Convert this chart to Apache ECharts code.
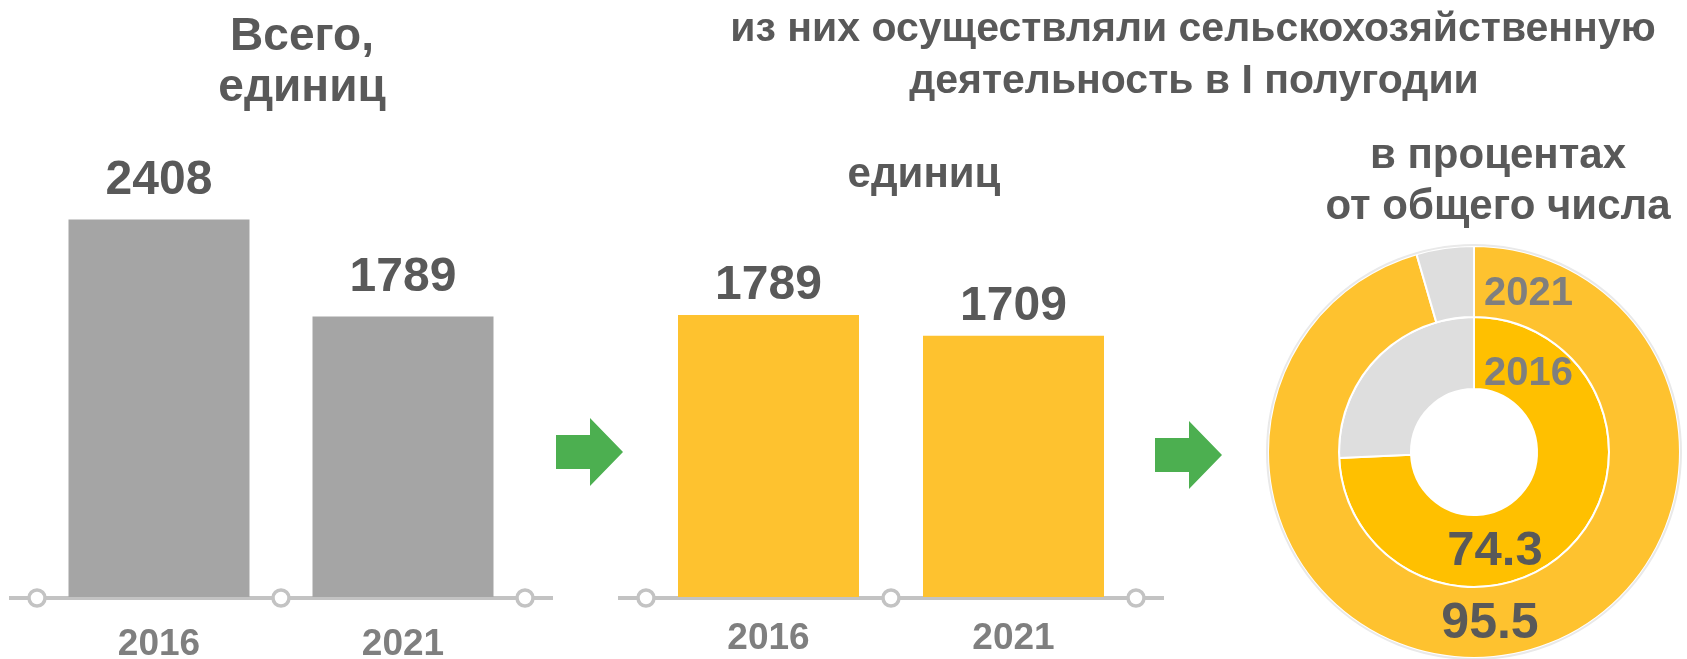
<!DOCTYPE html>
<html>
<head>
<meta charset="utf-8">
<script src="https://cdn.jsdelivr.net/npm/echarts@6/dist/echarts.min.js"></script>
<style>
html,body{margin:0;padding:0;background:#fff;}
#main{width:1687px;height:659px;}
</style>
</head>
<body>
<div id="main"></div>
<script>
// ---- data ----
const categories = ['2016', '2021'];
const totalUnits = [2408, 1789];          // Всего, единиц
const agriUnits = [1789, 1709];           // из них осуществляли с/х деятельность, единиц
const pieYears = ['2016', '2021'];        // inner ring, outer ring
const agriShare = [74.3, 95.5];           // в процентах от общего числа
const otherShare = [25.7, 4.5];

const titleLeft = ['Всего,', 'единиц'];
const titleMain = ['из них осуществляли сельскохозяйственную', 'деятельность в I полугодии'];
const titleMid = ['единиц'];
const titlePie = ['в процентах', 'от общего числа'];

// ---- styles ----
const FF = '"Liberation Sans", Arial, sans-serif';
const TITLE_C = '#595959';
const YEAR_C = '#7f7f7f';
const GRAY_BAR = '#a5a5a5';
const YELLOW_BAR = '#fec22f';
const YELLOW_IN = '#ffc000';
const PIE_GRAY = '#dedede';
const GREEN = '#4caf50';
const AXIS_C = '#c3c3c3';

const grids = [
  { left: 37, width: 488, top: 205, height: 392, outerBoundsMode: 'none', containLabel: false },
  { left: 646, width: 490, top: 208.5, height: 388.5, outerBoundsMode: 'none', containLabel: false }
];
const pieCenter = [1474, 452];

const chart = echarts.init(document.getElementById('main'));

function valueLabel(dist) {
  return { show: true, position: 'top', distance: dist, fontSize: 48, fontWeight: 'bold', color: TITLE_C, fontFamily: FF };
}
function xAx(i, margin) {
  return {
    type: 'category', gridIndex: i, data: categories,
    axisLine: { show: false }, axisTick: { show: false }, splitLine: { show: false },
    axisLabel: { margin: margin, fontSize: 37, fontWeight: 'bold', color: YEAR_C, fontFamily: FF }
  };
}

chart.setOption({
  animation: false,
  grid: grids,
  xAxis: [xAx(0, 29), xAx(1, 23)],
  yAxis: [
    { type: 'value', gridIndex: 0, min: 0, max: 2500, show: false },
    { type: 'value', gridIndex: 1, min: 700, max: 2200, show: false }
  ],
  series: [
    { type: 'bar', xAxisIndex: 0, yAxisIndex: 0, data: totalUnits, barWidth: 181,
      itemStyle: { color: GRAY_BAR }, label: valueLabel(15), silent: true },
    { type: 'bar', xAxisIndex: 1, yAxisIndex: 1, data: agriUnits, barWidth: 181, clip: true,
      itemStyle: { color: YELLOW_BAR }, label: valueLabel(5), silent: true },
    { type: 'pie', center: pieCenter, radius: [63, 135], startAngle: 90, clockwise: true, silent: true,
      label: { show: false }, labelLine: { show: false },
      itemStyle: { borderColor: '#fff', borderWidth: 2 },
      data: [
        { name: pieYears[0], value: agriShare[0], itemStyle: { color: YELLOW_IN } },
        { name: 'other', value: otherShare[0], itemStyle: { color: PIE_GRAY } }
      ] },
    { type: 'pie', center: pieCenter, radius: [135, 206], startAngle: 90, clockwise: true, silent: true,
      label: { show: false }, labelLine: { show: false },
      itemStyle: { borderColor: '#fff', borderWidth: 2 },
      data: [
        { name: pieYears[1], value: agriShare[1], itemStyle: { color: YELLOW_BAR } },
        { name: 'other', value: otherShare[1], itemStyle: { color: PIE_GRAY } }
      ] }
  ]
});

// ---- decorations computed from the axes ----
const g = [];
function txt(text, x, y, size, color, align) {
  g.push({ type: 'text', x: x, y: y, z: 20, silent: true,
    style: { text: text, fontSize: size, fontWeight: 'bold', fill: color, fontFamily: FF,
      align: align || 'center', verticalAlign: 'middle' } });
}
// axis lines with circle markers at category boundaries
[0, 1].forEach(function (i) {
  const gr = grids[i];
  const yMin = chart.getModel().getComponent('yAxis', i).get('min');
  const y0 = chart.convertToPixel({ yAxisIndex: i }, yMin);
  const ext = 28;
  g.push({ type: 'line', z: 1, silent: true,
    shape: { x1: gr.left - ext, y1: y0 + 1, x2: gr.left + gr.width + ext, y2: y0 + 1 },
    style: { stroke: AXIS_C, lineWidth: 4 } });
  const band = gr.width / categories.length;
  for (let k = 0; k <= categories.length; k++) {
    g.push({ type: 'circle', z: 15, silent: true,
      shape: { cx: gr.left + k * band, cy: y0 + 1, r: 8 },
      style: { fill: '#fff', stroke: AXIS_C, lineWidth: 3.5 } });
  }
});
// arrows
function arrow(x0, yc) {
  g.push({ type: 'polygon', z: 5, silent: true,
    shape: { points: [[x0, yc - 17], [x0 + 34, yc - 17], [x0 + 34, yc - 34], [x0 + 67, yc], [x0 + 34, yc + 34], [x0 + 34, yc + 17], [x0, yc + 17]] },
    style: { fill: GREEN } });
}
arrow(556, 452);
arrow(1155, 455);
// pie outline
g.push({ type: 'circle', z: 10, silent: true,
  shape: { cx: pieCenter[0], cy: pieCenter[1], r: 207 },
  style: { fill: 'none', stroke: '#e9e9e9', lineWidth: 2 } });
// titles
txt(titleLeft[0], 302, 37, 46, TITLE_C);
txt(titleLeft[1], 302, 88, 46, TITLE_C);
txt(titleMain[0], 1193, 30, 41, TITLE_C);
txt(titleMain[1], 1194, 82, 41, TITLE_C);
txt(titleMid[0], 924, 175, 42, TITLE_C);
txt(titlePie[0], 1498, 156, 42, TITLE_C);
txt(titlePie[1], 1498, 207, 42, TITLE_C);
// donut labels
txt(pieYears[1], pieCenter[0] + 10, pieCenter[1] - 158, 40, YEAR_C, 'left');
txt(pieYears[0], pieCenter[0] + 10, pieCenter[1] - 78, 40, YEAR_C, 'left');
txt(String(agriShare[0]), pieCenter[0] + 21, pieCenter[1] + 99, 49, TITLE_C);
txt(String(agriShare[1]), pieCenter[0] + 16, pieCenter[1] + 172, 50, TITLE_C);

chart.setOption({ graphic: g });
</script>
</body>
</html>
